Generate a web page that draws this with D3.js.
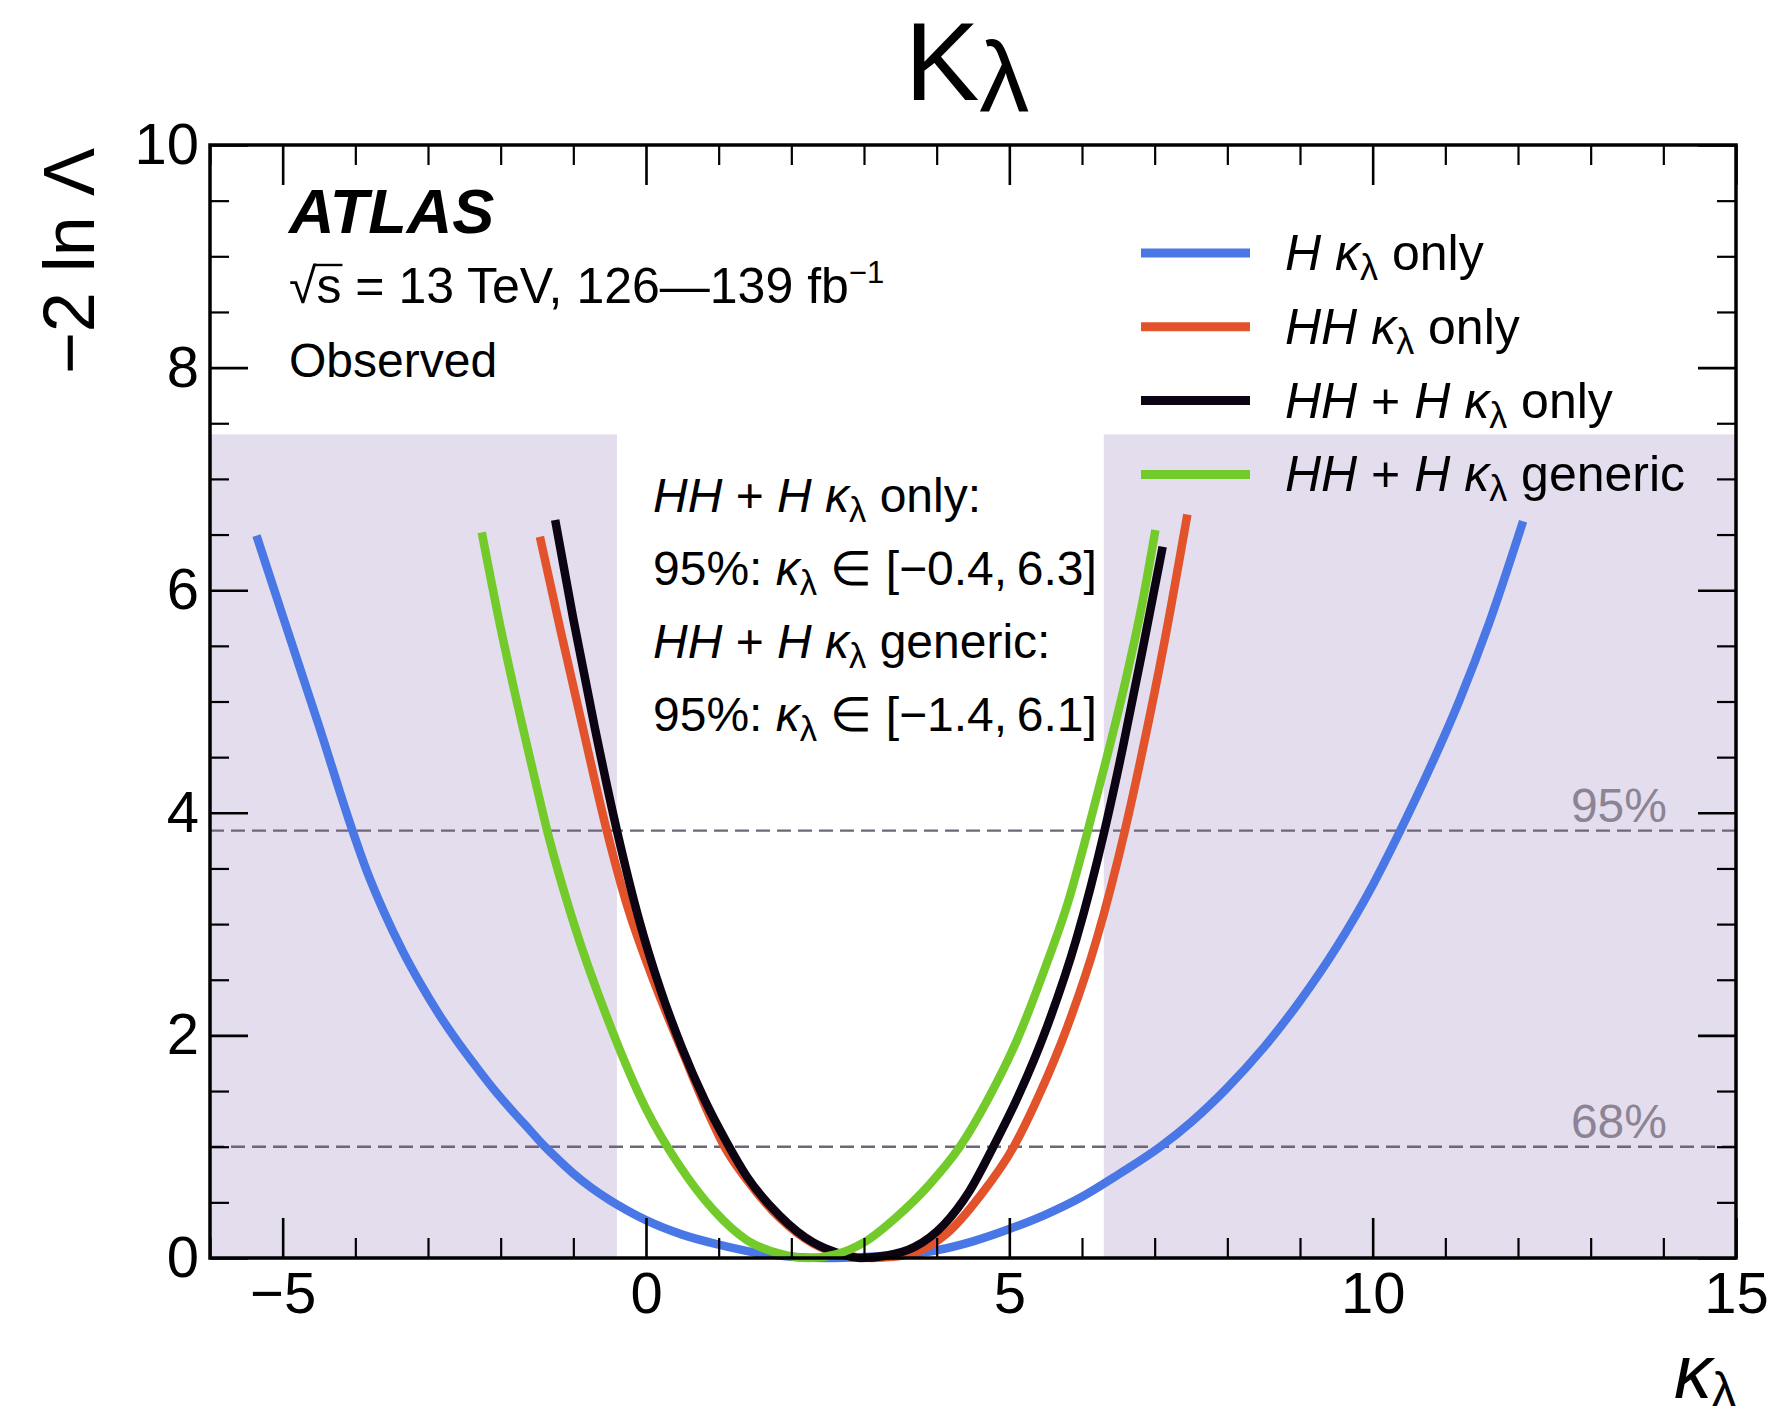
<!DOCTYPE html>
<html>
<head>
<meta charset="utf-8">
<script src="https://cdn.jsdelivr.net/npm/d3@7"></script>
<style>
  html, body { margin: 0; padding: 0; background: #fff; }
  svg { display: block; }
  text { font-family: "Liberation Sans", Arial, Helvetica, sans-serif; }
</style>
</head>
<body>
<svg id="chart" width="1777" height="1418"></svg>
<script>
// Likelihood scans: pairs of [κλ, −2 ln Λ]
const hOnly = [
  [-5.36, 6.49], [-5.0, 5.77], [-4.5, 4.78], [-4.05, 3.86], [-3.85, 3.49], [-3.6, 3.10],
  [-3.35, 2.76], [-3.1, 2.46], [-2.85, 2.19], [-2.6, 1.95], [-2.35, 1.73], [-2.1, 1.52],
  [-1.85, 1.33], [-1.6, 1.15], [-1.42, 1.02], [-1.2, 0.88], [-1.0, 0.76], [-0.75, 0.63],
  [-0.5, 0.52], [-0.25, 0.425], [0.0, 0.34], [0.5, 0.21], [1.0, 0.12], [1.5, 0.05],
  [2.0, 0.012], [2.5, 0.0], [3.0, 0.01], [3.5, 0.03], [4.0, 0.07], [4.5, 0.15],
  [5.0, 0.26], [5.5, 0.39], [6.0, 0.55], [6.5, 0.75], [7.08, 1.0], [7.5, 1.22],
  [8.0, 1.53], [8.5, 1.89], [9.0, 2.31], [9.5, 2.79], [10.0, 3.35], [10.38, 3.84],
  [10.8, 4.42], [11.2, 5.02], [11.6, 5.70], [12.07, 6.62]
];
const hhOnly = [
  [-1.46, 6.48], [-1.18, 5.65], [-0.91, 4.88], [-0.54, 3.84], [-0.27, 3.19], [0.10, 2.50],
  [0.51, 1.84], [0.88, 1.27], [1.08, 1.0], [1.39, 0.70], [1.84, 0.36], [2.3, 0.13],
  [2.7, 0.03], [3.1, 0.0], [3.4, 0.01], [3.7, 0.05], [4.14, 0.22], [4.6, 0.56],
  [5.06, 1.0], [5.4, 1.45], [5.8, 2.08], [6.2, 2.86], [6.59, 3.84], [6.84, 4.58],
  [7.13, 5.52], [7.45, 6.68]
];
const hhPlusHOnly = [
  [-1.25, 6.63], [-1.0, 5.74], [-0.7, 4.75], [-0.4, 3.84], [-0.1, 3.05], [0.2, 2.41],
  [0.5, 1.88], [0.8, 1.43], [1.11, 1.04], [1.39, 0.73], [1.84, 0.38], [2.3, 0.14],
  [2.62, 0.05], [2.95, 0.0], [3.3, 0.02], [3.7, 0.10], [4.1, 0.30], [4.45, 0.60],
  [4.78, 1.0], [5.12, 1.45], [5.52, 2.08], [5.92, 2.86], [6.31, 3.84], [6.56, 4.58],
  [6.85, 5.52], [7.11, 6.39]
];
const hhPlusHGeneric = [
  [-2.26, 6.52], [-2.0, 5.66], [-1.75, 4.92], [-1.5, 4.22], [-1.36, 3.84], [-1.0, 3.02],
  [-0.5, 2.10], [0.0, 1.34], [0.45, 0.84], [0.93, 0.43], [1.39, 0.16], [1.84, 0.04],
  [2.25, 0.0], [2.6, 0.03], [3.0, 0.14], [3.45, 0.37], [3.9, 0.66], [4.32, 1.0],
  [4.7, 1.42], [5.1, 1.95], [5.5, 2.62], [5.8, 3.18], [6.08, 3.84], [6.35, 4.52],
  [6.59, 5.16], [6.84, 5.92], [7.01, 6.54]
];

// Series styling (drawn back to front) and legend entries
const seriesData   = [hOnly, hhOnly, hhPlusHOnly, hhPlusHGeneric];
const seriesColors = ["#4a77e6", "#e2532b", "#0c0412", "#72cb2b"];
const drawOrder    = [0, 1, 2, 3];
const legendLabels = [
  [["H", "i"], [" "], ["κ", "i"], ["λ", "sub"], [" only"]],
  [["HH", "i"], [" "], ["κ", "i"], ["λ", "sub"], [" only"]],
  [["HH", "i"], [" + "], ["H", "i"], [" "], ["κ", "i"], ["λ", "sub"], [" only"]],
  [["HH", "i"], [" + "], ["H", "i"], [" "], ["κ", "i"], ["λ", "sub"], [" generic"]]
];

// Axes
const xDomain = [-6, 15];
const yDomain = [0, 10];
const xTicks = [-5, 0, 5, 10, 15];
const yTicks = [0, 2, 4, 6, 8, 10];

// Confidence levels
const clLevels = [1, 3.84];
const clLabels = ["68%", "95%"];

// 95% intervals quoted in the plot; the shaded band marks the excluded region of the first
const intervalOnly = [-0.4, 6.3];
const intervalGeneric = [-1.4, 6.1];
const bandTop = 7.4;

const svg = d3.select("#chart");
const W = 1777, H = 1418;
const plot = { left: 210, right: 1736, top: 145, bottom: 1258 };

const x = d3.scaleLinear().domain(xDomain).range([plot.left, plot.right]);
const y = d3.scaleLinear().domain(yDomain).range([plot.bottom, plot.top]);

svg.append("rect").attr("width", W).attr("height", H).attr("fill", "#fff");

// Excluded region shading
const bands = [[xDomain[0], intervalOnly[0]], [intervalOnly[1], xDomain[1]]];
svg.append("g").selectAll("rect").data(bands).join("rect")
  .attr("x", d => x(d[0]))
  .attr("y", y(bandTop))
  .attr("width", d => x(d[1]) - x(d[0]))
  .attr("height", y(0) - y(bandTop))
  .attr("fill", "#e4dded");

// CL reference lines
const clG = svg.append("g");
clG.selectAll("line").data(clLevels).join("line")
  .attr("x1", x(xDomain[0])).attr("x2", x(xDomain[1]))
  .attr("y1", d => y(d)).attr("y2", d => y(d))
  .attr("stroke", "#6e6777").attr("stroke-width", 2.4)
  .attr("stroke-dasharray", "14,7");
clG.selectAll("text").data(clLevels).join("text")
  .attr("x", 1667).attr("y", d => y(d) - 9)
  .attr("text-anchor", "end")
  .attr("font-size", 48)
  .attr("fill", "#8c8494")
  .text((d, i) => clLabels[i]);

// Curves
const line = d3.line().x(d => x(d[0])).y(d => y(d[1])).curve(d3.curveMonotoneX);
svg.append("g").selectAll("path").data(drawOrder).join("path")
  .attr("d", i => line(seriesData[i]))
  .attr("fill", "none")
  .attr("stroke", i => seriesColors[i])
  .attr("stroke-width", 8.5)
  .attr("stroke-linejoin", "round");

// Ticks on all four sides, pointing inward
function minorValues(domain, step, majors) {
  const out = [];
  for (let v = domain[0]; v <= domain[1] + 1e-9; v += step) {
    const r = Math.round(v * 100) / 100;
    if (!majors.some(m => Math.abs(m - r) < 1e-6)) out.push(r);
  }
  return out;
}
const xMinor = minorValues(xDomain, 1, xTicks);
const yMinor = minorValues(yDomain, 0.5, yTicks);

function styleAxis(g, width) {
  g.select(".domain").remove();
  g.selectAll(".tick line").attr("stroke", "#000").attr("stroke-width", width);
  g.selectAll("text").attr("font-family", "'Liberation Sans', Arial, Helvetica, sans-serif")
    .attr("font-size", 58).attr("fill", "#000");
  g.attr("font-size", null).attr("font-family", null);
}
const fmtTick = d3.format("d");

svg.append("g").attr("transform", `translate(0,${plot.bottom})`)
  .call(d3.axisBottom(x).tickValues(xTicks).tickSize(-40).tickPadding(14).tickFormat(fmtTick))
  .call(g => styleAxis(g, 2.6));
svg.append("g").attr("transform", `translate(0,${plot.bottom})`)
  .call(d3.axisBottom(x).tickValues(xMinor).tickSize(-20).tickFormat(""))
  .call(g => styleAxis(g, 2.2));
svg.append("g").attr("transform", `translate(0,${plot.top})`)
  .call(d3.axisTop(x).tickValues(xTicks).tickSize(-40).tickFormat(""))
  .call(g => styleAxis(g, 2.6));
svg.append("g").attr("transform", `translate(0,${plot.top})`)
  .call(d3.axisTop(x).tickValues(xMinor).tickSize(-20).tickFormat(""))
  .call(g => styleAxis(g, 2.2));

svg.append("g").attr("transform", `translate(${plot.left},0)`)
  .call(d3.axisLeft(y).tickValues(yTicks).tickSize(-38).tickPadding(11).tickFormat(fmtTick))
  .call(g => styleAxis(g, 2.6));
svg.append("g").attr("transform", `translate(${plot.left},0)`)
  .call(d3.axisLeft(y).tickValues(yMinor).tickSize(-19).tickFormat(""))
  .call(g => styleAxis(g, 2.2));
svg.append("g").attr("transform", `translate(${plot.right},0)`)
  .call(d3.axisRight(y).tickValues(yTicks).tickSize(-38).tickFormat(""))
  .call(g => styleAxis(g, 2.6));
svg.append("g").attr("transform", `translate(${plot.right},0)`)
  .call(d3.axisRight(y).tickValues(yMinor).tickSize(-19).tickFormat(""))
  .call(g => styleAxis(g, 2.2));

// Frame
svg.append("rect")
  .attr("x", plot.left).attr("y", plot.top)
  .attr("width", plot.right - plot.left).attr("height", plot.bottom - plot.top)
  .attr("fill", "none").attr("stroke", "#000").attr("stroke-width", 3.5);

// Mixed-style text helper: parts are [text, style] with style "i", "sub", "sup" or none
function rich(sel, parts, fs, subScale = 0.7) {
  let shift = 0;
  parts.forEach(([t, style]) => {
    const ts = sel.append("tspan").text(t);
    let target = 0;
    if (style === "sub") { ts.attr("font-size", fs * subScale); target = fs * 0.2; }
    else if (style === "sup") { ts.attr("font-size", fs * 0.62); target = -fs * 0.4; }
    else ts.attr("font-size", fs);
    if (style === "i") ts.attr("font-style", "italic");
    if (target !== shift) { ts.attr("dy", target - shift); shift = target; }
  });
  return sel;
}

// Legend
const legendG = svg.append("g");
legendLabels.forEach((parts, i) => {
  const ly = 253 + i * 73.8;
  legendG.append("line")
    .attr("x1", 1141).attr("x2", 1250).attr("y1", ly).attr("y2", ly)
    .attr("stroke", seriesColors[i]).attr("stroke-width", 9);
  rich(legendG.append("text").attr("x", 1285).attr("y", ly + 17).attr("fill", "#000"), parts, 50, 0.72);
});

// Interval annotation
const fmt1 = d3.format(".1f");
const noteLines = [
  [["HH", "i"], [" + "], ["H", "i"], [" "], ["κ", "i"], ["λ", "sub"], [" only:"]],
  [["95%: "], ["κ", "i"], ["λ", "sub"], [` ∈ [${fmt1(intervalOnly[0])},\u2009${fmt1(intervalOnly[1])}]`]],
  [["HH", "i"], [" + "], ["H", "i"], [" "], ["κ", "i"], ["λ", "sub"], [" generic:"]],
  [["95%: "], ["κ", "i"], ["λ", "sub"], [` ∈ [${fmt1(intervalGeneric[0])},\u2009${fmt1(intervalGeneric[1])}]`]]
];
noteLines.forEach((parts, i) => {
  rich(svg.append("text").attr("x", 653).attr("y", 512 + i * 73).attr("fill", "#000"), parts, 48, 0.72);
});

// Experiment label
svg.append("text").attr("x", 289).attr("y", 233)
  .attr("font-size", 63).attr("font-weight", "bold").attr("font-style", "italic")
  .text("ATLAS");
const energy = rich(svg.append("text").attr("x", 289).attr("y", 303),
  [["√"], ["s"], [" = 13 TeV, 126—139 fb"], ["−1", "sup"]], 50);
{
  const n = energy.node();
  const e0 = n.getExtentOfChar(0), e1 = n.getExtentOfChar(1);
  svg.append("line")
    .attr("x1", e0.x + e0.width - 1.5).attr("x2", e1.x + e1.width + 1)
    .attr("y1", 303 - 38).attr("y2", 303 - 38)
    .attr("stroke", "#000").attr("stroke-width", 2.4);
}
svg.append("text").attr("x", 289).attr("y", 377).attr("font-size", 48).text("Observed");

// Axis titles
svg.append("text")
  .attr("transform", `translate(94,${plot.top + 3}) rotate(-90)`)
  .attr("text-anchor", "end").attr("font-size", 72)
  .text("−2 ln Λ");
svg.append("text").attr("x", plot.right).attr("y", 1398).attr("text-anchor", "end")
  .call(t => {
    t.append("tspan").attr("font-size", 76).attr("font-style", "italic").text("κ");
    t.append("tspan").attr("font-size", 48).attr("dy", 8).text("λ");
  });

// Title
svg.append("text").attr("x", 967).attr("y", 100).attr("text-anchor", "middle")
  .call(t => {
    t.append("tspan").attr("font-size", 112).text("Κ");
    t.append("tspan").attr("font-size", 100).attr("dy", 12).text("λ");
  });
</script>
</body>
</html>
